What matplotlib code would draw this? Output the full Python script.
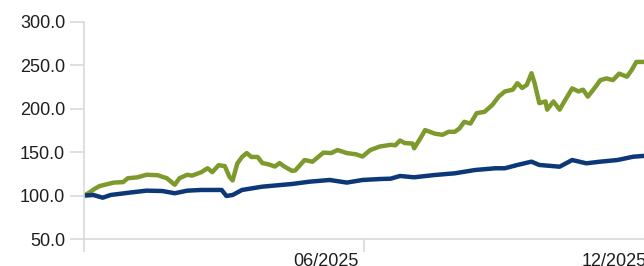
import numpy as np
import pandas as pd
import matplotlib
matplotlib.use("Agg")
import matplotlib.pyplot as plt
import matplotlib.dates as mdates
from matplotlib.transforms import ScaledTranslation

plt.rcParams['font.family'] = ['Liberation Sans', 'DejaVu Sans']

# data: days since start, index value
start = pd.Timestamp("2025-01-02")

green_days = [0, 3, 7, 10, 19, 25, 28, 34, 40, 47, 53, 58, 61, 66, 69, 75, 79, 82, 86, 90,
              93, 95, 98, 101, 104, 107, 111, 114, 118, 122, 125, 128, 133, 135, 138, 141, 146,
              153, 158, 162, 168, 174, 178, 183, 189, 196, 199, 202, 205, 210, 211, 215, 218,
              224, 229, 233, 237, 240, 243, 247, 251, 256, 261, 265, 269, 274, 277, 280, 283,
              286, 288, 291, 295, 296, 300, 304, 307, 312, 316, 319, 322, 327, 330, 334, 338,
              342, 347, 350, 353, 357]
green_vals = [100, 103, 108, 111, 115, 115.5, 120, 121, 124, 123.5, 120, 112.5, 120, 124, 123,
              127, 131.5, 127, 135, 134, 121.5, 117.5, 137, 144.5, 149, 144.5, 144.5, 137.5, 136,
              133.5, 137.5, 133.5, 128.5, 129, 135, 141, 139, 149.5, 149, 152.5, 149, 147.5, 145,
              152.5, 156.5, 158.5, 158, 163.5, 160.5, 160, 154.5, 166, 175.5, 171.5, 170, 173.5,
              173.5, 177.5, 185, 183, 195, 196.5, 204.5, 214, 220, 222, 229.5, 224, 227.5, 241,
              229.5, 206.5, 208.5, 199, 208.5, 199, 208.5, 223.5, 220, 222, 214, 225.5, 233, 235,
              233, 240.5, 237, 244.5, 254, 254]

blue_days = [0, 6, 12, 17, 29, 40, 50, 58, 66, 75, 88, 91, 95, 101, 114, 133, 144, 157, 168,
             178, 189, 196, 202, 211, 224, 237, 250, 263, 269, 277, 286, 291, 304, 312, 321,
             330, 341, 351, 357]
blue_vals = [100, 100.7, 97.6, 100.7, 103.4, 105.7, 105.3, 102.7, 105.7, 106.5, 106.5, 99.6,
             100.7, 106.5, 110.3, 113.4, 116, 118, 115, 118, 119.1, 119.5, 122.6, 121.1, 123.7,
             125.7, 129.5, 131.5, 131.5, 135.3, 139.1, 135.3, 133.3, 141, 137.2, 139.1, 141,
             144.8, 145.6]

tick_dates = ["2025-01-02", "2025-06-30", "2025-12-31"]
tick_labels = ["", "06/2025", "12/2025"]
y_ticks = [50, 100, 150, 200, 250, 300]

green_x = start + pd.to_timedelta(green_days, unit="D")
blue_x = start + pd.to_timedelta(blue_days, unit="D")

fig = plt.figure(figsize=(6.44, 2.66), dpi=100)
ax = fig.add_axes([0.1304, 0.1015, 0.899, 0.8158])

ax.plot(green_x, green_vals, color="#7f9a2c", lw=3.2, solid_joinstyle="round")
ax.plot(blue_x, blue_vals, color="#0d3877", lw=3.2, solid_joinstyle="round")

ax.set_xlim(start, start + pd.Timedelta(days=370))
ax.set_ylim(50, 300)

ax.set_yticks(y_ticks)
ax.set_yticklabels([f"{v:.1f}" for v in y_ticks])
ax.set_xticks(pd.to_datetime(tick_dates))
ax.set_xticklabels(tick_labels)

for s in ["top", "right"]:
    ax.spines[s].set_visible(False)
for s in ["left", "bottom"]:
    ax.spines[s].set_color("#d9d9d9")
    ax.spines[s].set_linewidth(1.2)

ax.tick_params(axis="y", length=10, width=1.2, color="#d9d9d9", pad=3.5,
               labelsize=13, labelcolor="#1e1e1e")
ax.tick_params(axis="x", length=9, width=1.2, color="#d9d9d9", pad=1,
               labelsize=13, labelcolor="#1e1e1e")

shift = ScaledTranslation(-4 / 72, 0, fig.dpi_scale_trans)
for lab in ax.get_xticklabels():
    lab.set_horizontalalignment("right")
    lab.set_transform(lab.get_transform() + shift)

fig.savefig("out.png", dpi=100)
